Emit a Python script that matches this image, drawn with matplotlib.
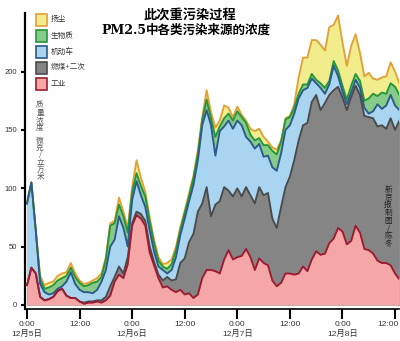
import numpy as np
import matplotlib
matplotlib.use("Agg")
import matplotlib.pyplot as plt
from matplotlib.patches import Rectangle
from matplotlib.transforms import ScaledTranslation

plt.rcParams['font.family'] = ['Liberation Sans', 'Noto Sans CJK SC']

# hourly PM2.5 source concentrations (µg/m³), 12月5日 0:00 onwards
hours = np.arange(86)

industry = [17, 32, 27, 7, 4, 5, 7, 12, 14, 8, 6, 6, 3, 1, 2, 2, 3, 2, 4, 8,
            20, 26, 23, 35, 68, 77, 74, 68, 45, 34, 23, 15, 16, 13, 11, 13, 9, 10, 6, 9,
            23, 30, 30, 29, 27, 39, 47, 39, 41, 42, 48, 41, 30, 40, 36, 34, 21, 16, 19, 27,
            27, 26, 27, 33, 29, 39, 46, 43, 44, 53, 57, 66, 63, 52, 55, 68, 62, 48, 47, 44,
            38, 36, 36, 34, 27, 22]
coal = [0, 0, 0, 0, 0, 0, 0, 0, 0, 0, 0, 0, 0, 1, 1, 1, 1, 2, 3, 8,
        4, 7, 4, 6, 2, 3, 4, 4, 5, 3, 3, 6, 8, 8, 11, 23, 31, 44, 55, 71,
        64, 71, 46, 57, 62, 62, 51, 54, 59, 51, 53, 53, 57, 61, 58, 62, 53, 50, 65, 74,
        83, 98, 114, 121, 127, 135, 134, 124, 129, 127, 127, 121, 115, 115, 123, 120, 118, 114, 114, 116,
        115, 118, 115, 126, 123, 136]
vehicle = [70, 73, 37, 11, 7, 4, 3, 2, 2, 12, 22, 12, 10, 9, 8, 7, 9, 16, 23, 34,
           32, 43, 39, 9, 20, 26, 16, 12, 14, 9, 7, 9, 3, 9, 19, 24, 34, 35, 42, 44,
           67, 66, 78, 42, 60, 52, 60, 58, 58, 61, 43, 46, 47, 37, 33, 32, 44, 49, 46, 49,
           44, 40, 36, 30, 30, 20, 10, 19, 8, 9, 21, 9, 5, 5, 4, 5, 6, 7, 3, 6,
           19, 14, 20, 20, 21, 9]
biomass = [0, 0, 0, 4, 3, 6, 7, 7, 7, 5, 4, 6, 6, 5, 6, 9, 7, 4, 9, 18,
           14, 10, 10, 12, 7, 7, 8, 9, 8, 7, 5, 3, 4, 5, 6, 4, 5, 4, 6, 5,
           5, 9, 6, 16, 4, 7, 6, 7, 8, 7, 12, 6, 7, 5, 10, 9, 14, 14, 10, 9,
           7, 5, 4, 5, 3, 4, 3, 4, 5, 3, 4, 5, 5, 4, 6, 5, 6, 6, 13, 15,
           7, 14, 10, 10, 16, 13]
dust = [0, 0, 0, 3, 3, 4, 3, 4, 4, 3, 4, 3, 2, 2, 2, 2, 3, 3, 2, 2,
        2, 6, 4, 4, 4, 11, 7, 4, 3, 3, 3, 2, 5, 4, 3, 3, 2, 3, 2, 4,
        2, 8, 5, 8, 5, 11, 5, 3, 4, 2, 2, 5, 8, 8, 7, 3, 3, 4, 1, 1,
        1, 3, 14, 23, 23, 29, 34, 33, 32, 46, 31, 47, 37, 29, 34, 34, 24, 21, 22, 13,
        14, 13, 15, 18, 13, 10]

sources = ['工业', '燃煤+二次', '机动车', '生物质', '扬尘']
fill_colors = ['#f5a6a6', '#858585', '#a9d5f1', '#86cc88', '#f1ec8c']
edge_colors = ['#9e1b31', '#4a4a4a', '#2c5a8c', '#25963a', '#e2a036']

tick_hours = [0, 12, 24, 36, 48, 60, 72, 84]
tick_labels = ['0:00\n12月5日', '12:00', '0:00\n12月6日', '12:00',
               '0:00\n12月7日', '12:00', '0:00\n12月8日', '12:00']

W, H = 400, 341
fig = plt.figure(figsize=(W / 100, H / 100), dpi=100)


def fx(px):
    return px / W


def fy(py):
    return 1 - py / H


ax = fig.add_axes([fx(25), fy(308.5), fx(399.4) - fx(25), fy(13) - fy(308.5)])

layers = np.array([industry, coal, vehicle, biomass, dust], dtype=float)
tops = np.cumsum(layers, axis=0)

# paint from the top layer down so lower bands cover upper ones cleanly
for i in range(len(sources) - 1, -1, -1):
    ax.fill_between(hours, 0, tops[i], color=fill_colors[i], lw=0, zorder=2 + (5 - i))
for i in range(len(sources) - 1, -1, -1):
    ax.plot(hours, tops[i], color=edge_colors[i], lw=1.35, zorder=10 + (5 - i),
            solid_joinstyle='round')

ax.set_xlim(-0.456, 85)
ax.set_ylim(-3, 250.2)
ax.set_yticks([0, 50, 100, 150, 200])
ax.set_xticks(tick_hours)
ax.set_xticklabels(tick_labels, fontsize=6, color='#333333', linespacing=1.25)
ax.tick_params(axis='y', labelsize=5.5, labelcolor='#333333', length=3, width=1.5,
               direction='out', pad=3)
ax.tick_params(axis='x', length=7, width=1.5, direction='out', pad=2)
for s in ['top', 'right']:
    ax.spines[s].set_visible(False)
ax.spines['left'].set_linewidth(1.6)
ax.spines['bottom'].set_linewidth(1.2)
ax.patch.set_alpha(0)

# keep the last time label inside the right edge
last = ax.get_xticklabels()[-1]
last.set_ha('right')
last.set_transform(last.get_transform() + ScaledTranslation(4 / 100, 0, fig.dpi_scale_trans))

# title
fig.text(fx(190), fy(15), '此次重污染过程', ha='center', va='center',
         fontsize=9.5, fontweight='bold', family=['Noto Sans CJK SC'])
t1 = fig.text(fx(101), fy(30.5), 'PM2.5', ha='left', va='center',
              fontsize=9, fontweight='bold', family=['DejaVu Serif'])
fig.add_artist(plt.Annotation('中各类污染来源的浓度', xy=(1, 0.5), xycoords=t1,
                              ha='left', va='center', fontsize=9, fontweight='bold',
                              family=['Noto Sans CJK SC']))

# legend keys
key_order = [4, 3, 2, 1, 0]
for row, i in enumerate(key_order):
    top = 13.5 + row * 16
    fig.add_artist(Rectangle((fx(35.5), fy(top + 12)), 11 / W, 12 / H,
                             transform=fig.transFigure, facecolor=fill_colors[i],
                             edgecolor=edge_colors[i], lw=1.2))
    fig.text(fx(51), fy(top + 6), sources[i], ha='left', va='center',
             fontsize=5.5, color='#333333', family=['Noto Sans CJK SC', 'DejaVu Sans'])

# axis unit, written vertically
fig.text(fx(40), fy(117), '\n'.join('质量浓度'), ha='center', va='center',
         fontsize=5.5, color='#555555', linespacing=0.9, family=['Noto Sans CJK SC'])
fig.text(fx(40), fy(159), '\n'.join('微克/立方米'), ha='center', va='center',
         fontsize=5.5, color='#555555', linespacing=0.9, family=['Noto Sans CJK SC'])

# credit
fig.text(fx(388), fy(217), '\n'.join('新京报制图/陈冬'), ha='center', va='center',
         fontsize=5.5, color='#222222', linespacing=0.95, family=['Noto Sans CJK SC'],
         zorder=20)

fig.savefig('out.png', dpi=100)
